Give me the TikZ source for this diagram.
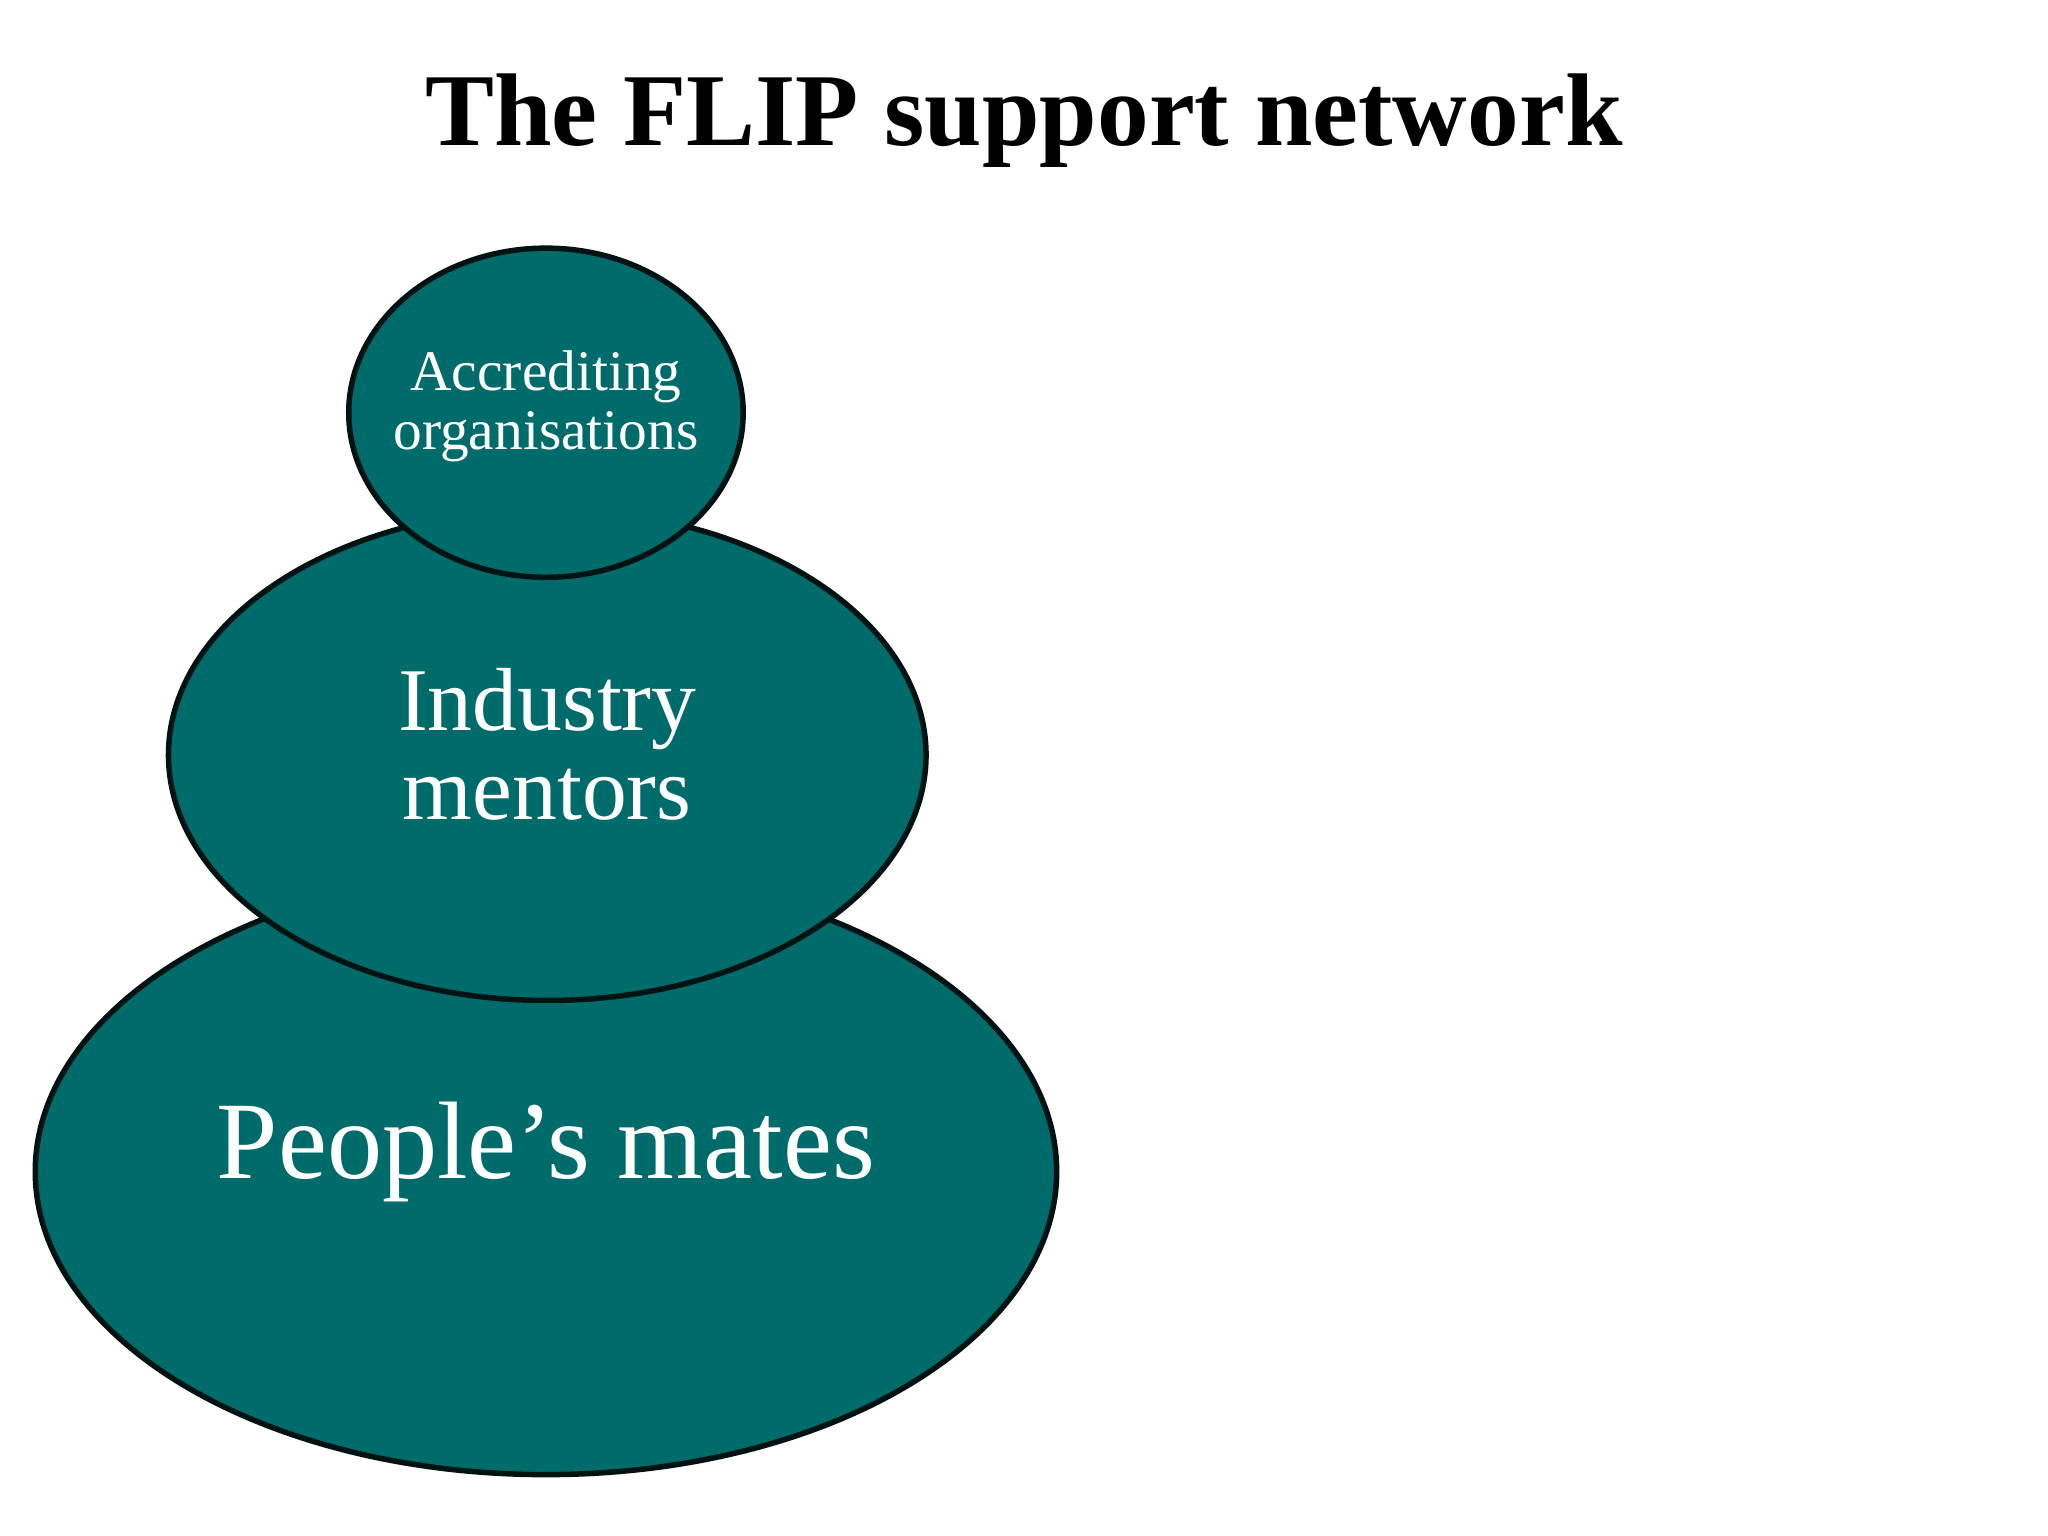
\documentclass[tikz,border=0pt]{standalone}
\usepackage{fontspec}
\setmainfont{Liberation Serif}
\begin{document}
\begin{tikzpicture}[x=0.01cm,y=-0.01cm,
  blob/.style={draw=black!85!teal,line width=1.2pt,fill=tealc},
  lbl/.style={text=white,align=center,font=#1}]
\definecolor{tealc}{HTML}{006B6B}
\useasboundingbox (0,0) rectangle (1568,1176);
\node[font=\bfseries\fontsize{22.5}{27}\selectfont] (title) at (784,92) {The FLIP support network};
\draw[blob] (418,897) ellipse [x radius=391,y radius=232];
\draw[blob] (419,578) ellipse [x radius=290,y radius=188];
\draw[blob] (418,316) ellipse [x radius=151,y radius=126];
\node[lbl={\fontsize{24}{28}\selectfont}] (mates) at (418,882) {People’s mates};
\node[lbl={\fontsize{19.5}{19.5}\selectfont}] (ind) at (419,570) {Industry\\mentors};
\node[lbl={\fontsize{12.5}{13}\selectfont}] (acc) at (418,311) {Accrediting\\organisations};
\end{tikzpicture}
\end{document}
